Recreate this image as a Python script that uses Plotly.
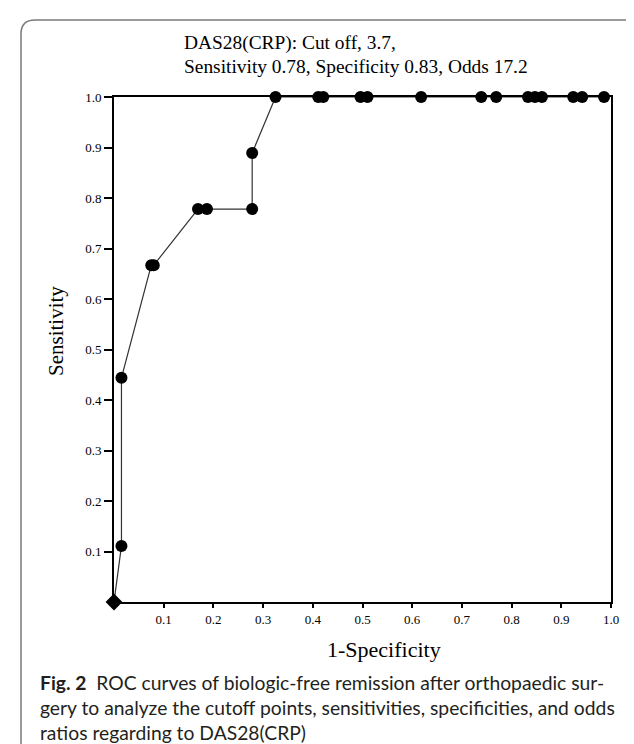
import plotly.graph_objects as go

# ---- data ----
one_minus_spec = [0.0, 0.015, 0.015, 0.075, 0.080, 0.169, 0.187, 0.278, 0.278, 0.325,
                  0.411, 0.421, 0.496, 0.510, 0.618, 0.739, 0.769, 0.833, 0.847, 0.861,
                  0.924, 0.942, 0.986]
sensitivity = [0.0, 0.111, 0.444, 0.667, 0.667, 0.778, 0.778, 0.778, 0.889, 1.0,
               1.0, 1.0, 1.0, 1.0, 1.0, 1.0, 1.0, 1.0, 1.0, 1.0,
               1.0, 1.0, 1.0]
marker_symbols = ["diamond"] + ["circle"] * (len(one_minus_spec) - 1)
marker_sizes = [13] + [12] * (len(one_minus_spec) - 1)
tick_vals = [0.1, 0.2, 0.3, 0.4, 0.5, 0.6, 0.7, 0.8, 0.9, 1.0]
tick_text = ["0.1", "0.2", "0.3", "0.4", "0.5", "0.6", "0.7", "0.8", "0.9", "1.0"]
title_lines = ["DAS28(CRP): Cut off, 3.7,",
               "Sensitivity 0.78, Specificity 0.83, Odds 17.2"]
caption_lines = ["<b>Fig. 2</b>  ROC curves of biologic-free remission after orthopaedic sur-",
                 "gery to analyze the cutoff points, sensitivities, specificities, and odds",
                 "ratios regarding to DAS28(CRP)"]

# ---- layout geometry (pixels) ----
W, H = 634, 744
L, R, T, B = 106, 603, 89, 594


def px(xp):
    return (xp - L) / (R - L)


def py(yp):
    return (B - yp) / (B - T)


SERIF = "Liberation Serif, Times New Roman, serif"
SANS = "Lato, Open Sans, sans-serif"

fig = go.Figure()
fig.add_trace(go.Scatter(
    x=one_minus_spec, y=sensitivity, mode="lines+markers",
    line=dict(color="#333333", width=1.2),
    marker=dict(symbol=marker_symbols, size=marker_sizes, color="black", opacity=1,
                line=dict(width=0)),
    cliponaxis=False, showlegend=False, hoverinfo="x+y",
))

annotations = []
# title lines
for i, t in enumerate(title_lines):
    annotations.append(dict(text=t, x=px(174), y=py(35.5 + i * 23.5), xref="paper", yref="paper",
                            xanchor="left", yanchor="middle", showarrow=False,
                            font=dict(family=SERIF, size=19.4, color="black")))
# axis titles
annotations.append(dict(text="Sensitivity", x=px(48), y=py(323), xref="paper", yref="paper",
                        textangle=-90, xanchor="center", yanchor="middle", showarrow=False,
                        font=dict(family=SERIF, size=21, color="black")))
annotations.append(dict(text="1-Specificity", x=px(376), y=py(641), xref="paper", yref="paper",
                        xanchor="center", yanchor="middle", showarrow=False,
                        font=dict(family=SERIF, size=22, color="black")))
# caption
for i, t in enumerate(caption_lines):
    annotations.append(dict(text=t, x=px(30), y=py(674 + i * 25), xref="paper", yref="paper",
                            xanchor="left", yanchor="middle", showarrow=False,
                            font=dict(family=SANS, size=19.3, color="#231f20")))

# rounded border (extends beyond right/bottom edge)
bx0, by0, rad = 13, 12, 14
path = (f"M {px(bx0)},{py(H + 10)} L {px(bx0)},{py(by0 + rad)} "
        f"Q {px(bx0)},{py(by0)} {px(bx0 + rad)},{py(by0)} L {px(W + 10)},{py(by0)}")

fig.update_layout(
    width=W, height=H, autosize=False,
    margin=dict(l=L, r=W - R, t=T, b=H - B, pad=0),
    paper_bgcolor="white", plot_bgcolor="white",
    xaxis=dict(range=[0, 1], showgrid=False, zeroline=False, showline=True, mirror=True,
               linecolor="black", linewidth=2, ticks="outside", ticklen=4, tickwidth=1.5,
               tickcolor="black", tickvals=tick_vals, ticktext=tick_text,
               tickfont=dict(family=SERIF, size=13, color="black")),
    yaxis=dict(range=[0, 1], showgrid=False, zeroline=False, showline=True, mirror=True,
               linecolor="black", linewidth=2, ticks="outside", ticklen=8, tickwidth=1.5,
               tickcolor="black", tickvals=tick_vals, ticktext=tick_text,
               tickfont=dict(family=SERIF, size=13, color="black")),
    annotations=annotations,
    shapes=[dict(type="path", path=path, xref="paper", yref="paper",
                 line=dict(color="#7a7a7a", width=1.5), layer="below")],
)

fig.write_html("out.html")
